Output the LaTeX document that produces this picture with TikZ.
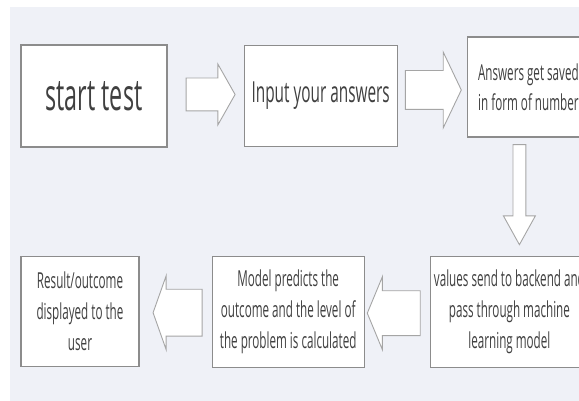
\documentclass[tikz,border=0pt]{standalone}
\usepackage{fontspec}
\setmainfont{Open Sans}[FakeStretch=0.53]
\usetikzlibrary{shapes,arrows,positioning,calc}
\definecolor{bggray}{RGB}{239,241,247}
\definecolor{boxgray}{RGB}{140,140,140}
\definecolor{arrowgray}{RGB}{165,165,165}
\definecolor{textgray}{RGB}{64,64,64}

\begin{document}
\begin{tikzpicture}[x=1pt, y=-1pt, node distance=70pt]
\tikzstyle{stepbox}=[draw=boxgray, line width=1.2pt, fill=white, text=textgray, align=center, inner sep=0pt, font=\fontsize{22}{31}\selectfont]
\tikzstyle{blockarrow}=[single arrow, draw=arrowgray, line width=0.9pt, fill=white, inner xsep=0pt, single arrow head indent=0pt, anchor=tip]
\useasboundingbox (0,0) rectangle (579,401);
\clip (0,0) rectangle (579,401);
\fill[bggray] (10,7) rectangle (579,401);

% top row
\node[stepbox, minimum width=146pt, minimum height=102pt, font=\fontsize{44}{50}\selectfont] (start) at (94,96) {start test};
\node[stepbox, minimum width=153pt, minimum height=101pt, font=\fontsize{29}{34}\selectfont, right=76pt of start] (input) {Input your answers};
\node[stepbox, minimum width=122pt, minimum height=100pt, font=\fontsize{22}{30}\selectfont, right=69pt of input, yshift=9pt] (saved) {Answers get saved\\in form of number};
% bottom row
\node[stepbox, minimum width=158pt, minimum height=111pt, below=118pt of saved, xshift=-19pt] (values) {values send to backend and\\pass through machine\\learning model};
\node[stepbox, minimum width=152pt, minimum height=111pt, left=65pt of values] (model) {Model predicts the\\outcome and the level of\\the problem is calculated};
\node[stepbox, minimum width=118pt, minimum height=110pt, left=72pt of model] (result) {Result/outcome\\displayed to the\\user};

% block arrows
\node[blockarrow, minimum height=49pt, inner ysep=16pt, single arrow head extend=14pt, single arrow tip angle=121] (a1) at ($(input.west)+(-8,-1.5)$) {};
\node[blockarrow, minimum height=56pt, inner ysep=19pt, single arrow head extend=18.5pt, single arrow tip angle=129] (a2) at ($(saved.west)+(-5,3)$) {};
\node[blockarrow, rotate=-90, minimum height=100pt, inner ysep=6pt, single arrow head extend=9.5pt, single arrow tip angle=58] (a3) at ($(values.north)+(10,-10)$) {};
\node[blockarrow, rotate=180, minimum height=53pt, inner ysep=22pt, single arrow head extend=14pt, single arrow tip angle=135] (a4) at ($(model.east)+(2,1.5)$) {};
\node[blockarrow, rotate=180, minimum height=49pt, inner ysep=23pt, single arrow head extend=13.5pt, single arrow tip angle=141] (a5) at ($(result.east)+(13,1)$) {};
\end{tikzpicture}
\end{document}
